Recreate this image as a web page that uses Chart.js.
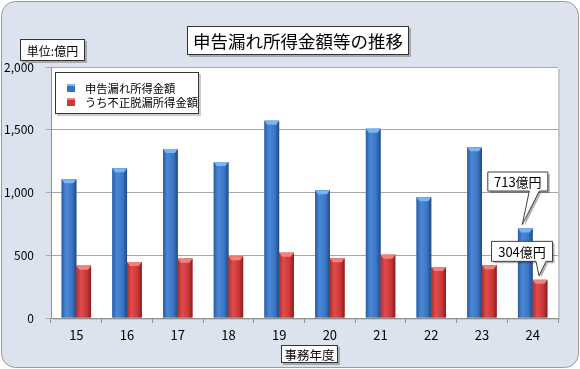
<!DOCTYPE html>
<html>
<head>
<meta charset="utf-8">
<script src="https://cdn.jsdelivr.net/npm/chart.js@4"></script>
<style>
  body { margin: 0; background: #ffffff; }
  canvas { display: block; }
</style>
</head>
<body>
<canvas id="myChart" width="580" height="369"></canvas>
<script>
// 事務年度
const categories = ['15', '16', '17', '18', '19', '20', '21', '22', '23', '24'];
// 申告漏れ所得金額 (億円)
const moreAmounts = [1105, 1193, 1347, 1243, 1572, 1017, 1508, 962, 1360, 713];
// うち不正脱漏所得金額 (億円)
const fuseiAmounts = [417, 446, 473, 492, 520, 476, 504, 406, 420, 304];
const yTicks = [0, 500, 1000, 1500, 2000];

const FONT = "'Noto Sans CJK JP', 'Noto Sans', sans-serif";

// bar shading, left to right
const shades = [
    { base: '#3a72c0', stops: ['#2a5ca6', '#4a88d6', '#3c76c4', '#1f4a86'], cap: '#7ab4f4' },
    { base: '#cc3636', stops: ['#b02c2c', '#e04c4c', '#cc3838', '#8a1e1e'], cap: '#f28080' }
];

function textBox(ctx, text, x, y, w, h, size) {
    ctx.save();
    ctx.fillStyle = 'rgba(0,0,0,0.25)';
    ctx.fillRect(x + 2, y + 2, w, h);
    ctx.fillStyle = '#ffffff';
    ctx.fillRect(x, y, w, h);
    ctx.strokeStyle = '#333333';
    ctx.lineWidth = 1;
    ctx.strokeRect(x + 0.5, y + 0.5, w - 1, h - 1);
    ctx.fillStyle = '#000000';
    ctx.font = size + 'px ' + FONT;
    ctx.textAlign = 'center';
    ctx.textBaseline = 'middle';
    ctx.fillText(text, x + w / 2, y + h / 2 + 1);
    ctx.restore();
}

function callout(ctx, text, bx, by, w, h, tipX, tipY, tailL, tailR) {
    ctx.save();
    ctx.beginPath();
    ctx.moveTo(bx + 0.5, by + 0.5);
    ctx.lineTo(bx + w - 0.5, by + 0.5);
    ctx.lineTo(bx + w - 0.5, by + h - 0.5);
    ctx.lineTo(tailR, by + h - 0.5);
    ctx.lineTo(tipX, tipY);
    ctx.lineTo(tailL, by + h - 0.5);
    ctx.lineTo(bx + 0.5, by + h - 0.5);
    ctx.closePath();
    ctx.shadowColor = 'rgba(0,0,0,0.3)';
    ctx.shadowOffsetX = 2;
    ctx.shadowOffsetY = 2;
    ctx.fillStyle = '#ffffff';
    ctx.fill();
    ctx.shadowColor = 'transparent';
    ctx.strokeStyle = '#404040';
    ctx.lineWidth = 1;
    ctx.stroke();
    ctx.fillStyle = '#000000';
    ctx.font = '13px ' + FONT;
    ctx.textAlign = 'center';
    ctx.textBaseline = 'middle';
    ctx.fillText(text, bx + w / 2, by + h / 2 + 1);
    ctx.restore();
}

const decoPlugin = {
    id: 'deco',
    beforeDraw(chart) {
        const ctx = chart.ctx;
        const a = chart.chartArea;
        ctx.save();
        // outer rounded frame
        ctx.beginPath();
        ctx.roundRect(1.5, 1.5, 577, 366, 14);
        ctx.fillStyle = '#dde3ee';
        ctx.fill();
        ctx.strokeStyle = '#9a9a9a';
        ctx.lineWidth = 1;
        ctx.stroke();
        // plot area
        ctx.fillStyle = 'rgba(0,0,0,0.12)';
        ctx.fillRect(a.left + 2, a.top + 2, a.right - a.left, a.bottom - a.top);
        ctx.fillStyle = '#ffffff';
        ctx.fillRect(a.left, a.top, a.right - a.left, a.bottom - a.top);
        ctx.restore();
    },
    afterDatasetsDraw(chart) {
        const ctx = chart.ctx;
        ctx.save();
        chart.data.datasets.forEach((ds, di) => {
            const sh = shades[di];
            chart.getDatasetMeta(di).data.forEach(el => {
                const l = el.x - el.width / 2, r = el.x + el.width / 2;
                const t = el.y, b = el.base;
                const g = ctx.createLinearGradient(l, 0, r, 0);
                g.addColorStop(0, sh.stops[0]);
                g.addColorStop(0.3, sh.stops[1]);
                g.addColorStop(0.7, sh.stops[2]);
                g.addColorStop(1, sh.stops[3]);
                ctx.fillStyle = g;
                ctx.fillRect(l, t, r - l, b - t);
                // top bevel
                ctx.beginPath();
                ctx.moveTo(l, t);
                ctx.lineTo(r, t);
                ctx.lineTo(r - 3, t + 4);
                ctx.lineTo(l + 3, t + 4);
                ctx.closePath();
                ctx.fillStyle = sh.cap;
                ctx.fill();
            });
        });
        ctx.restore();
    },
    afterDraw(chart) {
        const ctx = chart.ctx;
        // title, unit, axis title
        textBox(ctx, '申告漏れ所得金額等の推移', 187, 26, 222, 29, 17.5);
        textBox(ctx, '単位:億円', 20, 39, 65, 22, 12);
        textBox(ctx, '事務年度', 281, 345, 57, 18, 12.5);

        // legend
        ctx.save();
        ctx.fillStyle = 'rgba(0,0,0,0.2)';
        ctx.fillRect(57, 74, 144, 42);
        ctx.fillStyle = '#ffffff';
        ctx.fillRect(55, 72, 144, 42);
        ctx.strokeStyle = '#333333';
        ctx.strokeRect(55.5, 72.5, 143, 41);
        ctx.font = '11.3px ' + FONT;
        ctx.textBaseline = 'middle';
        chart.data.datasets.forEach((ds, i) => {
            const y = 88 + i * 14;
            ctx.fillStyle = shades[i].base;
            ctx.fillRect(67, y - 4, 8, 8);
            ctx.fillStyle = shades[i].cap;
            ctx.fillRect(67, y - 4, 8, 2);
            ctx.fillStyle = '#000000';
            ctx.fillText(ds.label, 85, y + 1);
        });
        ctx.restore();

        // callouts on the last year
        const last = categories.length - 1;
        const bBlue = chart.getDatasetMeta(0).data[last];
        const bRed = chart.getDatasetMeta(1).data[last];
        callout(ctx, moreAmounts[last] + '億円', bBlue.x - 38, bBlue.y - 57, 61, 20,
            bBlue.x - 3, bBlue.y - 4, bBlue.x + 4, bBlue.x + 14);
        callout(ctx, fuseiAmounts[last] + '億円', bRed.x - 49, bRed.y - 39, 62, 21,
            bRed.x - 1, bRed.y - 4, bRed.x - 4, bRed.x + 6);
    }
};

const ctx = document.getElementById('myChart').getContext('2d');
const myChart = new Chart(ctx, {
    type: 'bar',
    data: {
        labels: categories,
        datasets: [{
            label: '申告漏れ所得金額',
            data: moreAmounts,
            backgroundColor: shades[0].base,
            borderWidth: 0
        }, {
            label: 'うち不正脱漏所得金額',
            data: fuseiAmounts,
            backgroundColor: shades[1].base,
            borderWidth: 0
        }]
    },
    options: {
        responsive: false,
        animation: false,
        layout: { padding: { top: 67, right: 22, left: 0, bottom: 0 } },
        datasets: {
            bar: { categoryPercentage: 0.58, barPercentage: 1 }
        },
        plugins: {
            legend: { display: false },
            title: { display: false },
            tooltip: { enabled: false }
        },
        scales: {
            x: {
                afterFit(scale) { scale.height = 51; },
                grid: {
                    offset: true,
                    drawOnChartArea: false,
                    drawTicks: true,
                    tickLength: 5,
                    color: '#909090'
                },
                border: { color: '#909090' },
                ticks: {
                    color: '#000000',
                    padding: 4,
                    font: { family: FONT, size: 13 }
                }
            },
            y: {
                min: yTicks[0],
                max: yTicks[yTicks.length - 1],
                afterFit(scale) { scale.width = 51; },
                afterBuildTicks(scale) {
                    scale.ticks = yTicks.map(v => ({ value: v }));
                },
                grid: {
                    color: '#a8a8a8',
                    tickLength: 5
                },
                border: { color: '#909090' },
                ticks: {
                    color: '#000000',
                    padding: 12,
                    font: { family: FONT, size: 12 },
                    callback: v => v.toLocaleString('en-US')
                }
            }
        }
    },
    plugins: [decoPlugin]
});
</script>
</body>
</html>
